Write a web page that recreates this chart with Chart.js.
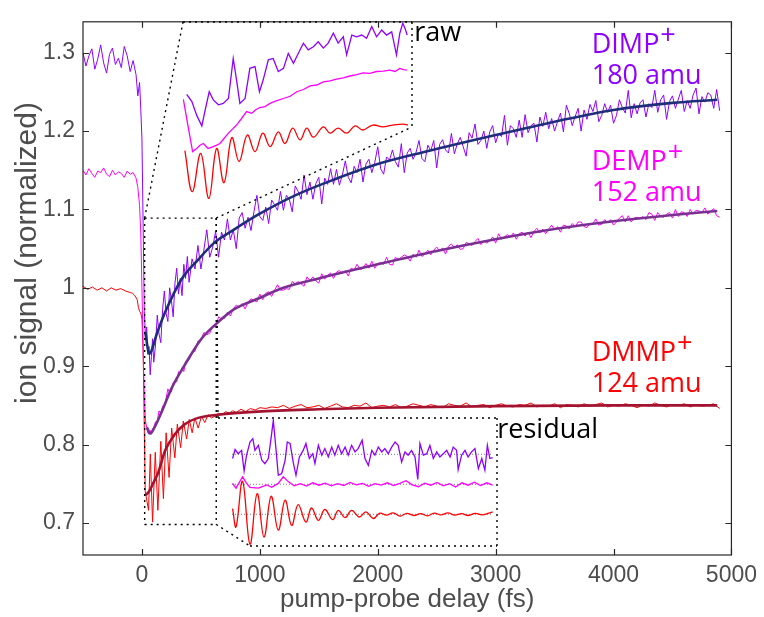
<!DOCTYPE html>
<html>
<head>
<meta charset="utf-8">
<script src="https://cdn.jsdelivr.net/npm/chart.js@4.4.1/dist/chart.umd.min.js"></script>
<style>
  html, body { margin: 0; padding: 0; background: #fff; }
  #wrap { position: relative; width: 764px; height: 617px; }
  #wrap canvas { position: absolute; }
</style>
</head>
<body>
<div id="wrap">
  <canvas id="main" width="764" height="617" style="left:0;top:0"></canvas>
  <canvas id="rawInset" width="229" height="180" style="left:183px;top:22px"></canvas>
  <canvas id="resInset" width="279" height="128" style="left:218px;top:418px"></canvas>
</div>
<script>
// ---------- data ----------
const xTicks = [0, 1000, 2000, 3000, 4000, 5000];
const yTicks = [0.7, 0.8, 0.9, 1, 1.1, 1.2, 1.3];

// pump-probe delay (fs) for the DIMP+ and DEMP+ raw traces
const delayFs = [-500,-475,-450,-425,-400,-375,-350,-325,-300,-275,-250,-225,-200,-175,-150,-125,-100,-75,-50,
  -35,-20,-10,0,10,20,30,40,50,60,70,80,90,100,
  115,130,145,160,175,190,205,220,235,250,265,280,295,310,325,340,355,370,385,400,
  425,450,475,500,525,550,575,600,625,650,675,700,725,750,775,800,825,850,875,900,
  925,950,975,1000,1025,1050,1075,1100,1125,1150,1175,1200,1225,1250,1275,1300,1325,1350,1375,1400,
  1425,1450,1475,1500,1525,1550,1575,1600,1625,1650,1675,1700,1725,1750,1775,1800,1825,1850,1875,1900,
  1925,1950,1975,2000,2025,2050,2075,2100,2125,2150,2175,2200,2225,2250,2275,2300,2325,2350,2375,2400,
  2425,2450,2475,2500,2525,2550,2575,2600,2625,2650,2675,2700,2725,2750,2775,2800,2825,2850,2875,2900,
  2925,2950,2975,3000,3025,3050,3075,3100,3125,3150,3175,3200,3225,3250,3275,3300,3325,3350,3375,3400,
  3425,3450,3475,3500,3525,3550,3575,3600,3625,3650,3675,3700,3725,3750,3775,3800,3825,3850,3875,3900,
  3925,3950,3975,4000,4025,4050,4075,4100,4125,4150,4175,4200,4225,4250,4275,4300,4325,4350,4375,4400,
  4425,4450,4475,4500,4525,4550,4575,4600,4625,4650,4675,4700,4725,4750,4775,4800,4825,4850,4875,4900];

const dimpSignal = [1.300,1.283,1.296,1.305,1.279,1.292,1.310,1.287,1.274,1.298,1.306,1.285,1.293,1.281,1.308,1.296,1.276,1.290,1.272,
  1.245,1.262,1.228,1.190,1.080,0.970,0.935,0.950,0.915,0.925,0.889,0.912,0.935,0.905,
  0.927,0.965,0.941,0.930,0.972,0.996,0.967,0.957,1.000,0.984,0.963,1.006,1.025,0.992,1.012,0.990,1.030,1.012,1.040,1.007,
  1.037,1.024,1.054,1.024,1.048,1.074,1.039,1.052,1.072,1.039,1.071,1.061,1.088,1.061,1.074,1.050,1.089,1.096,1.076,1.090,
  1.073,1.097,1.118,1.091,1.086,1.103,1.082,1.112,1.106,1.099,1.123,1.099,1.118,1.113,1.097,1.130,1.123,1.113,1.144,1.119,
  1.135,1.113,1.133,1.141,1.107,1.140,1.132,1.152,1.132,1.151,1.131,1.144,1.162,1.141,1.134,1.155,1.147,1.164,1.135,1.158,
  1.164,1.147,1.160,1.180,1.152,1.145,1.167,1.163,1.176,1.161,1.154,1.184,1.147,1.172,1.178,1.164,1.173,1.188,1.165,1.161,
  1.182,1.175,1.188,1.153,1.183,1.189,1.176,1.172,1.197,1.171,1.184,1.192,1.180,1.168,1.198,1.191,1.209,1.183,1.188,1.200,
  1.178,1.199,1.207,1.185,1.197,1.193,1.220,1.182,1.207,1.203,1.192,1.214,1.192,1.221,1.198,1.207,1.210,1.186,1.218,1.206,
  1.224,1.203,1.216,1.200,1.212,1.223,1.199,1.233,1.222,1.207,1.219,1.229,1.200,1.227,1.215,1.234,1.225,1.239,1.212,1.220,
  1.235,1.224,1.233,1.210,1.220,1.240,1.230,1.223,1.252,1.217,1.235,1.222,1.236,1.240,1.218,1.235,1.230,1.252,1.224,1.240,
  1.246,1.215,1.238,1.245,1.229,1.241,1.252,1.225,1.239,1.229,1.246,1.255,1.222,1.244,1.237,1.249,1.246,1.229,1.253,1.226];

const dempSignal = [1.150,1.144,1.152,1.146,1.141,1.149,1.147,1.153,1.145,1.142,1.150,1.144,1.148,1.146,1.141,1.149,1.145,1.147,1.140,
  1.128,1.105,1.070,1.000,0.920,0.860,0.830,0.822,0.815,0.813,0.818,0.815,0.820,0.822,
  0.829,0.830,0.843,0.839,0.849,0.848,0.859,0.871,0.866,0.867,0.879,0.881,0.880,0.893,0.890,0.898,0.893,0.906,0.907,0.908,
  0.918,0.919,0.932,0.933,0.943,0.940,0.942,0.951,0.950,0.963,0.960,0.961,0.969,0.964,0.973,0.978,0.975,0.980,0.973,0.982,
  0.986,0.984,0.982,0.992,0.985,0.993,0.995,0.989,0.997,1.004,0.997,0.997,0.999,0.998,1.008,1.005,1.008,1.005,1.002,1.014,
  1.009,1.014,1.009,1.006,1.018,1.011,1.016,1.019,1.012,1.020,1.022,1.018,1.022,1.015,1.025,1.023,1.030,1.023,1.025,1.031,
  1.025,1.034,1.025,1.031,1.032,1.030,1.039,1.030,1.029,1.039,1.036,1.039,1.042,1.040,1.034,1.043,1.039,1.048,1.040,1.043,
  1.048,1.042,1.048,1.052,1.047,1.051,1.043,1.053,1.056,1.051,1.055,1.049,1.050,1.058,1.056,1.054,1.059,1.063,1.055,1.060,
  1.057,1.060,1.065,1.057,1.069,1.062,1.065,1.068,1.065,1.070,1.062,1.069,1.071,1.066,1.071,1.064,1.072,1.076,1.070,1.075,
  1.069,1.075,1.080,1.074,1.078,1.071,1.080,1.079,1.075,1.082,1.078,1.084,1.084,1.078,1.077,1.082,1.082,1.088,1.080,1.081,
  1.087,1.083,1.087,1.080,1.084,1.089,1.092,1.084,1.092,1.084,1.089,1.090,1.088,1.091,1.087,1.096,1.094,1.086,1.096,1.091,
  1.090,1.094,1.096,1.089,1.100,1.091,1.097,1.096,1.091,1.100,1.094,1.099,1.098,1.096,1.102,1.094,1.098,1.101,1.092,1.090];

// DMMP+ raw trace (own delays: dense where it oscillates)
const dmmpFs = [-500,-460,-420,-380,-340,-300,-260,-220,-180,-140,-100,-80,-60,-40,-30,-20,-10,0,10,20,28,
  42,56,71,90,113,135,160,182,205,230,252,279,300,328,351,379,401,426,449,477,505,533,561,589,
  620,650,680,710,740,770,800,840,880,920,960,1000,
  1050,1100,1150,1200,1250,1300,1350,1400,1450,1500,1550,1600,1650,1700,1750,1800,1850,1900,1950,2000,
  2050,2100,2150,2200,2250,2300,2350,2400,2450,2500,2550,2600,2650,2700,2750,2800,2850,2900,2950,3000,
  3050,3100,3150,3200,3250,3300,3350,3400,3450,3500,3550,3600,3650,3700,3750,3800,3850,3900,3950,4000,
  4050,4100,4150,4200,4250,4300,4350,4400,4450,4500,4550,4600,4650,4700,4750,4800,4850,4900];
const dmmpSignal = [1.002,0.998,1.001,0.997,1.000,0.996,1.000,0.997,0.999,0.996,0.994,0.993,0.990,0.985,0.975,0.970,0.968,0.960,0.920,0.820,0.740,
  0.728,0.716,0.788,0.701,0.790,0.716,0.804,0.731,0.815,0.758,0.821,0.783,0.826,0.796,0.830,0.807,0.832,0.815,0.834,0.821,0.836,0.828,0.838,0.834,
  0.836,0.840,0.838,0.842,0.840,0.843,0.841,0.845,0.842,0.846,0.844,0.847,
  0.846,0.848,0.847,0.850,0.846,0.849,0.851,0.847,0.848,0.850,0.846,0.849,0.852,0.848,0.847,0.850,0.849,0.853,0.847,0.849,
  0.850,0.848,0.851,0.847,0.849,0.852,0.850,0.848,0.851,0.849,0.847,0.852,0.850,0.849,0.853,0.848,0.850,0.851,0.847,0.850,
  0.852,0.849,0.848,0.851,0.850,0.853,0.848,0.850,0.849,0.852,0.847,0.851,0.850,0.848,0.852,0.849,0.851,0.853,0.848,0.850,
  0.849,0.852,0.850,0.847,0.851,0.849,0.853,0.850,0.848,0.851,0.850,0.852,0.848,0.851,0.849,0.850,0.852,0.846];

// fitted curves
const dimpFitFs = [28,62,130,197,336,477,617,757,981,1300,1626,2000,2411,3000,3500,4000,4500,4880];
const dimpFit = [0.944,0.916,0.943,0.969,1.011,1.036,1.058,1.072,1.093,1.118,1.138,1.158,1.174,1.195,1.212,1.227,1.236,1.240];
const dempFitFs = [42,70,100,168,252,365,505,645,786,981,1200,1500,2000,2500,3000,3500,4000,4500,4880];
const dempFit = [0.822,0.814,0.820,0.842,0.872,0.902,0.935,0.956,0.973,0.986,1.000,1.012,1.030,1.047,1.062,1.075,1.085,1.093,1.098];
const dmmpFitFs = [28,60,100,140,196,279,365,477,645,981,1500,2000,3000,4000,4880];
const dmmpFit = [0.735,0.740,0.752,0.765,0.792,0.813,0.826,0.834,0.838,0.842,0.845,0.847,0.849,0.850,0.850];

// "raw" inset: early delays magnified (traces offset for display)
const rawDimpFs = [30,44,57,71,80,91,102,116,129,143,156,165,174,188,201,215,227,237,251,264,278,292,305,319,332,346,359,373,386,400,
  413,427,440,454,463,477,490,504,517,531,544,558,571,585,598,607,615,621,627];
const rawDimp = [0.939,0.923,0.893,0.869,0.904,0.945,0.927,0.916,0.919,0.930,1.019,0.971,0.919,0.930,0.997,1.001,0.945,0.971,1.016,1.019,
  0.990,0.997,1.030,1.008,1.030,1.053,1.038,1.045,1.056,1.042,1.053,1.075,1.053,1.067,1.027,1.071,1.067,1.071,1.064,1.090,
  1.067,1.082,1.071,1.078,1.027,1.075,1.097,1.086,1.071];
const rawDempFs = [21,34,46,57,66,75,82,88,95,102,110,120,130,143,154,165,178,192,206,217,228,242,256,270,292,310,328,346,364,382,
  400,418,436,454,472,490,508,526,544,562,580,594,607,617,626];
const rawDemp = [0.928,0.867,0.812,0.819,0.826,0.830,0.824,0.819,0.821,0.823,0.826,0.830,0.840,0.853,0.862,0.871,0.885,0.901,0.897,0.905,
  0.910,0.912,0.919,0.924,0.930,0.935,0.945,0.950,0.958,0.960,0.967,0.969,0.973,0.976,0.980,0.983,0.987,0.986,0.990,0.991,
  0.993,0.990,0.997,0.994,0.993];
const rawDmmpFs = [25,45,68,90,111,131,152,172,194,215,236,256,278,296,317,337,355,373,400,418,440,463,486,507,534,561,588,616,629];
const rawDmmp = [0.814,0.723,0.808,0.708,0.819,0.743,0.843,0.790,0.849,0.812,0.853,0.823,0.856,0.830,0.864,0.838,0.864,0.844,0.867,0.853,
  0.864,0.853,0.869,0.860,0.871,0.867,0.871,0.873,0.871];

// "residual" inset: data minus fit, stacked with offsets
const residualOffsets = [1, 0, -1]; // DIMP, DEMP, DMMP
const resDimpFs = [2,10,20,31,39,47,58,67,74,85,96,106,117,125,133,142,149,160,171,178,187,197,206,217,229,238,249,260,267,278,
  289,299,310,321,331,342,353,364,374,385,396,406,419,428,439,450,460,471,482,492,503,514,525,535,546,557,567,578,589,598,
  605,616,627,637,648,659,669,680,691,702,712,723,728,739,750,760,771,782,793,804,814,822,830,839];
const resDimp = [-0.14,0.16,0.02,0.13,-0.56,-0.03,0.41,0.52,0.13,0.30,-0.20,-0.31,-0.14,0.47,1.13,0.13,-0.70,-0.64,-0.20,0.41,
  0.36,-0.26,-0.70,-0.09,0.13,0.36,-0.14,0.02,-0.31,0.30,-0.03,0.19,-0.09,0.24,-0.03,0.30,0.02,0.24,-0.03,0.30,
  0.08,0.19,0.47,-0.14,-0.37,0.13,-0.03,0.24,0.08,0.19,0.02,0.24,0.41,0.30,-0.26,0.08,-0.03,0.13,-0.09,-0.84,
  0.36,-0.03,0.02,0.30,-0.14,0.08,-0.09,0.02,0.13,-0.09,0.24,0.13,-0.51,-0.03,0.13,-0.09,0.08,0.19,-0.48,-0.14,
  -0.53,0.30,-0.14,-0.11];
const resDempFs = [2,13,34,47,58,85,112,128,149,165,181,200,220,240,260,280,300,320,340,360,380,400,420,440,460,480,500,520,540,560,
  580,600,620,640,660,680,700,720,740,760,780,800,820,839];
const resDemp = [0.03,-0.13,0.25,0.03,-0.10,-0.13,-0.02,-0.10,0.03,0.25,0.09,-0.05,0.02,-0.06,0.05,-0.03,0.04,-0.05,0.02,-0.04,
  0.06,-0.02,0.03,-0.07,0.02,-0.03,0.05,-0.04,0.03,0.12,-0.02,-0.08,0.04,-0.03,0.06,-0.05,0.02,-0.09,0.05,-0.03,
  0.07,-0.04,0.05,-0.03];
const resDmmpFs = [2,13,34,58,81,103,126,149,171,192,213,238,256,278,299,324,342,364,385,410,431,455,476,497,519,541,563,585,607,629,
  651,673,695,717,739,761,783,805,827,839];
const resDmmp = [0.19,-0.42,1.10,-1.00,0.69,-0.76,0.60,-0.53,0.47,-0.37,0.32,-0.26,0.21,-0.20,0.16,-0.18,0.13,-0.11,0.13,-0.09,
  0.08,-0.14,0.04,-0.03,0.05,-0.06,0.03,-0.04,0.02,-0.05,0.04,-0.02,0.05,-0.03,0.02,-0.04,0.03,-0.02,0.04,0.08];

// text labels, placed in data coordinates (fs, signal)
const yTitle = 'ion signal (normalized)';
const xTitle = 'pump-probe delay (fs)';
const speciesNames = ['DIMP', 'DEMP', 'DMMP'];
const speciesMass = ['180 amu', '152 amu', '124 amu'];
const speciesLabelAt = [[3815, 1.300], [3815, 1.150], [3815, 0.906]];
const insetNames = ['raw', 'residual'];
const insetLabelAt = [[2310, 1.3146], [3014, 0.808]];
const zoomWindow = { fs: [23, 630], signal: [0.698, 1.089] };

// ---------- styling / layout ----------
const colors = { dimp: '#8f00ff', demp: '#ff00ff', dmmp: '#ff0000',
  dimpFit: '#1f2e78', dempFit: '#7a3090', dmmpFit: '#a3132f',
  axis: '#262626', tickText: '#4d4d4d' };
const speciesColors = [colors.dimp, colors.demp, colors.dmmp];
const insetBox = {
  raw: { left: 183, top: 22, right: 412, bottom: 127 },
  res: { left: 218, top: 418, right: 497, bottom: 546, cornerX: 250 }
};
const yTitlePos = { x: 28, y: 253 };

Chart.defaults.font.family = '"Liberation Sans", Arial, sans-serif';

const pts = (xs, ys, off) => xs.map((x, i) => ({ x: x, y: ys[i] + (off || 0) }));

function rawLine(data, color, order) {
  return { data, borderColor: color, borderWidth: 1, pointRadius: 0, tension: 0, order };
}
function fitLine(data, color) {
  return { data, borderColor: color, borderWidth: 2.6, pointRadius: 0, cubicInterpolationMode: 'monotone', order: 0 };
}
function hiddenScales(xmin, xmax, ymin, ymax) {
  return {
    x: { type: 'linear', display: false, min: xmin, max: xmax },
    y: { type: 'linear', display: false, min: ymin, max: ymax }
  };
}

// ---------- insets ----------
new Chart(document.getElementById('rawInset'), {
  type: 'line',
  data: { datasets: [
    { data: pts(rawDimpFs, rawDimp), borderColor: colors.dimp, borderWidth: 1.3, pointRadius: 0, clip: false },
    { data: pts(rawDempFs, rawDemp), borderColor: colors.demp, borderWidth: 1.3, pointRadius: 0, clip: false },
    { data: pts(rawDmmpFs, rawDmmp), borderColor: colors.dmmp, borderWidth: 1.3, pointRadius: 0, tension: 0.4, clip: false }
  ] },
  options: {
    responsive: false, animation: false, devicePixelRatio: 1,
    plugins: { legend: { display: false }, tooltip: { enabled: false } },
    scales: hiddenScales(20, 640, 0.70, 1.10)
  }
});

const baseline = off => ({ data: [{ x: 0, y: off }, { x: 839, y: off }], borderColor: '#555', borderWidth: 0.8,
  borderDash: [1, 2], pointRadius: 0, order: 5 });
new Chart(document.getElementById('resInset'), {
  type: 'line',
  data: { datasets: [
    { data: pts(resDimpFs, resDimp, residualOffsets[0]), borderColor: colors.dimp, borderWidth: 1.3, pointRadius: 0, clip: false, order: 1 },
    { data: pts(resDempFs, resDemp, residualOffsets[1]), borderColor: colors.demp, borderWidth: 1.3, pointRadius: 0, clip: false, order: 1 },
    { data: pts(resDmmpFs, resDmmp, residualOffsets[2]), borderColor: colors.dmmp, borderWidth: 1.3, pointRadius: 0, tension: 0.4, clip: false, order: 1 },
    baseline(residualOffsets[0]), baseline(residualOffsets[1]), baseline(residualOffsets[2])
  ] },
  options: {
    responsive: false, animation: false, devicePixelRatio: 1,
    plugins: { legend: { display: false }, tooltip: { enabled: false } },
    scales: hiddenScales(-45, 853, -2.057, 2.21)
  }
});

// ---------- main chart decorations ----------
const decorPlugin = {
  id: 'decor',
  afterDatasetsDraw(chart) {
    const { ctx, chartArea: a, scales: { x, y } } = chart;
    ctx.save();
    // box + inward ticks on all sides
    ctx.strokeStyle = colors.axis;
    ctx.lineWidth = 1.2;
    ctx.strokeRect(a.left, a.top, a.right - a.left, a.bottom - a.top);
    ctx.beginPath();
    xTicks.forEach(v => {
      const px = Math.round(x.getPixelForValue(v)) + 0.5;
      ctx.moveTo(px, a.bottom); ctx.lineTo(px, a.bottom - 6);
      ctx.moveTo(px, a.top); ctx.lineTo(px, a.top + 6);
    });
    yTicks.forEach(v => {
      const py = Math.round(y.getPixelForValue(v)) + 0.5;
      ctx.moveTo(a.left, py); ctx.lineTo(a.left + 6, py);
      ctx.moveTo(a.right, py); ctx.lineTo(a.right - 6, py);
    });
    ctx.stroke();

    // zoom window and its connectors to the insets
    const x1 = x.getPixelForValue(zoomWindow.fs[0]), x2 = x.getPixelForValue(zoomWindow.fs[1]);
    const y1 = y.getPixelForValue(zoomWindow.signal[1]), y2 = y.getPixelForValue(zoomWindow.signal[0]);
    const r = insetBox.raw, s = insetBox.res;
    ctx.strokeStyle = '#000';
    ctx.lineWidth = 1.4;
    ctx.setLineDash([2, 4]);
    const seg = (ax, ay, bx, by) => { ctx.beginPath(); ctx.moveTo(ax, ay); ctx.lineTo(bx, by); ctx.stroke(); };
    seg(x1, y1, x2, y1); seg(x1, y1, x1, y2); seg(x1, y2, x2, y2); seg(x2, y1, x2, y2);
    seg(x1, y1, r.left, r.top); seg(r.left, r.top, r.right, r.top); seg(r.right, r.top, r.right, r.bottom);
    seg(x2, y1, r.right, r.bottom);
    seg(s.left, s.top, s.right, s.top); seg(s.right, s.top, s.right, s.bottom); seg(s.cornerX, s.bottom, s.right, s.bottom);
    seg(x2, y2, s.cornerX, s.bottom); seg(s.left, s.top, x2, y1);
    ctx.setLineDash([]);

    // species labels
    ctx.font = '27px "Open Sans", sans-serif';
    ctx.textBaseline = 'alphabetic';
    ctx.textAlign = 'left';
    speciesNames.forEach((name, i) => {
      const px = x.getPixelForValue(speciesLabelAt[i][0]);
      const py = y.getPixelForValue(speciesLabelAt[i][1]);
      ctx.fillStyle = speciesColors[i];
      ctx.fillText(name, px, py);
      ctx.fillText('+', px + ctx.measureText(name).width + 1, py - 9);
      ctx.fillText(speciesMass[i], px, py + 31);
    });
    ctx.fillStyle = '#000';
    insetNames.forEach((name, i) => {
      ctx.fillText(name, x.getPixelForValue(insetLabelAt[i][0]), y.getPixelForValue(insetLabelAt[i][1]));
    });

    // y-axis title
    ctx.translate(yTitlePos.x, yTitlePos.y);
    ctx.rotate(-Math.PI / 2);
    ctx.font = '30px "Liberation Sans", Arial, sans-serif';
    ctx.fillStyle = colors.tickText;
    ctx.textAlign = 'center';
    ctx.textBaseline = 'middle';
    ctx.fillText(yTitle, 0, 0);
    ctx.restore();
  }
};

const tickFont = { size: 23 };
new Chart(document.getElementById('main'), {
  type: 'line',
  data: { datasets: [
    fitLine(pts(dimpFitFs, dimpFit), colors.dimpFit),
    fitLine(pts(dempFitFs, dempFit), colors.dempFit),
    fitLine(pts(dmmpFitFs, dmmpFit), colors.dmmpFit),
    rawLine(pts(delayFs, dimpSignal), colors.dimp, 1),
    rawLine(pts(delayFs, dempSignal), colors.demp, 2),
    rawLine(pts(dmmpFs, dmmpSignal), colors.dmmp, 3)
  ] },
  options: {
    responsive: false, animation: false, devicePixelRatio: 1,
    layout: { padding: { top: 17, right: 27, left: 0, bottom: 0 } },
    plugins: { legend: { display: false }, tooltip: { enabled: false } },
    scales: {
      x: {
        type: 'linear', min: -500, max: 5000,
        afterBuildTicks: s => { s.ticks = xTicks.map(v => ({ value: v })); },
        afterFit: s => { s.height = 62; },
        ticks: { font: tickFont, color: colors.tickText, padding: 7, maxRotation: 0, autoSkip: false, callback: v => String(v) },
        grid: { display: false, drawTicks: false },
        border: { display: false },
        title: { display: true, text: xTitle, color: colors.tickText, font: { size: 26 }, padding: { top: 0, bottom: 2 } }
      },
      y: {
        type: 'linear', min: 0.659, max: 1.3395,
        afterBuildTicks: s => { s.ticks = yTicks.map(v => ({ value: v })); },
        afterFit: s => { s.width = 83; },
        ticks: { font: tickFont, color: colors.tickText, padding: 8, callback: v => String(v) },
        grid: { display: false, drawTicks: false },
        border: { display: false }
      }
    }
  },
  plugins: [decorPlugin]
});
</script>
</body>
</html>
